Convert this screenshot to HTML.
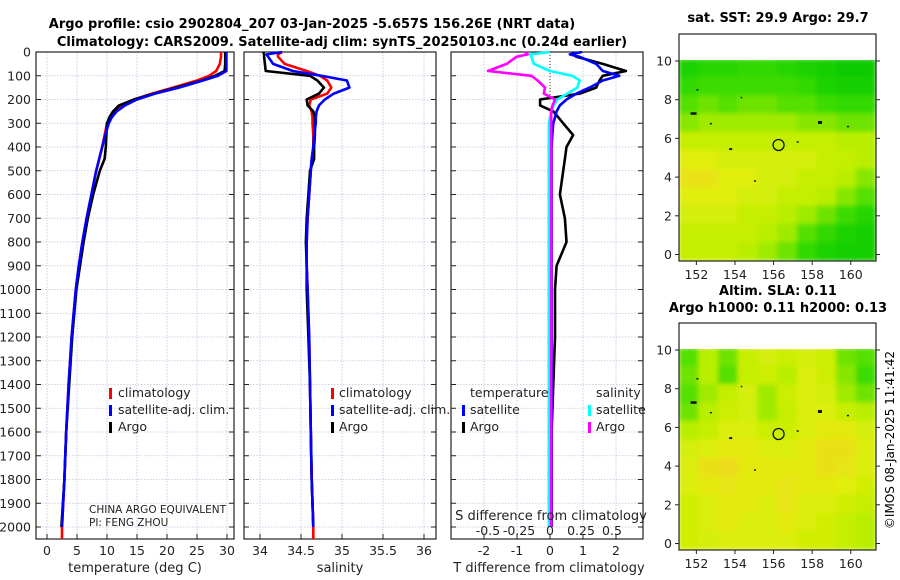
<!DOCTYPE html>
<html><head><meta charset="utf-8"><style>
html,body{margin:0;padding:0;background:#fff;width:900px;height:580px;overflow:hidden}
svg{display:block;font-family:"DejaVu Sans","Liberation Sans",sans-serif}
</style></head><body>
<svg id="chart" width="900" height="580" viewBox="0 0 900 580">
<defs>
<filter id="blur" x="0" y="0" width="1" height="1"><feGaussianBlur stdDeviation="2.5" edgeMode="duplicate"/></filter>
<clipPath id="clipM1"><rect x="679" y="60" width="197" height="201"/></clipPath>
<clipPath id="clipM2"><rect x="679" y="349" width="197" height="201"/></clipPath>
</defs>
<text x="312" y="28" font-size="13" font-weight="bold" text-anchor="middle">Argo profile: csio 2902804_207 03-Jan-2025 -5.657S 156.26E (NRT data)</text>
<text x="342" y="46" font-size="13" font-weight="bold" text-anchor="middle">Climatology: CARS2009. Satellite-adj clim: synTS_20250103.nc (0.24d earlier)</text>
<text x="778" y="22" font-size="13" font-weight="bold" text-anchor="middle">sat. SST: 29.9 Argo: 29.7</text>
<text x="778" y="295" font-size="13" font-weight="bold" text-anchor="middle">Altim. SLA: 0.11</text>
<text x="778" y="312" font-size="13" font-weight="bold" text-anchor="middle">Argo h1000: 0.11 h2000: 0.13</text>
<text transform="translate(894,440) rotate(-90)" font-size="12" text-anchor="middle">©IMOS 08-Jan-2025 11:41:42</text>
<g id="g"></g>
</svg>
<script>
// depth levels (m)
const depths=[0,10,20,50,80,100,120,150,175,200,225,250,275,300,350,400,450,500,600,700,800,900,1000,1200,1400,1600,1800,2000];
const tempClim=[29.0,29.0,29.0,28.8,28.2,27.0,25.0,21.0,17.5,14.5,12.5,11.3,10.6,10.0,9.6,9.2,8.7,8.2,7.4,6.6,5.9,5.3,4.8,4.1,3.6,3.2,2.9,2.5];
const tempSat=[29.9,29.9,29.9,29.9,29.9,28.5,26.0,22.0,18.0,15.0,13.0,11.6,10.8,10.3,9.7,9.2,8.7,8.2,7.4,6.6,5.9,5.3,4.8,4.1,3.6,3.2,2.9,2.5];
const tempArgo=[29.7,29.7,29.7,29.7,29.6,28.0,25.8,21.5,17.8,14.5,12.0,11.0,10.4,10.0,9.9,9.8,9.6,8.8,7.7,6.8,6.1,5.5,4.9,4.2,3.7,3.2,2.9,2.4];
const salClim=[34.27,34.22,34.22,34.30,34.57,34.73,34.82,34.87,34.82,34.62,34.60,34.63,34.64,34.64,34.65,34.65,34.63,34.62,34.60,34.58,34.57,34.57,34.58,34.60,34.61,34.62,34.63,34.65];
const salSat=[34.27,34.08,34.10,34.16,34.40,34.75,35.06,35.09,34.90,34.79,34.72,34.69,34.68,34.68,34.66,34.65,34.63,34.62,34.60,34.58,34.57,34.57,34.58,34.60,34.61,34.62,34.63,34.65];
const salArgo=[34.04,34.05,34.05,34.06,34.07,34.61,34.70,34.78,34.72,34.57,34.58,34.65,34.67,34.67,34.67,34.66,34.66,34.61,34.59,34.57,34.56,34.57,34.57,34.59,34.61,34.62,34.63,34.65];
const dTSat=[0.97,0.6,0.9,1.4,1.6,2.1,1.6,1.2,0.8,0.5,0.3,0.2,0.15,0.1,0.07,0.05,0.05,0.05,0.05,0.05,0.05,0.05,0.05,0.05,0.05,0.05,0.05,0.05];
const dTArgo=[0.7,0.7,0.8,1.6,2.3,1.6,1.5,1.4,0.9,-0.3,-0.3,0.1,0.25,0.4,0.7,0.5,0.45,0.4,0.3,0.45,0.5,0.2,0.15,0.15,0.1,0.05,0.05,0.05];
const dSSat=[0.0,-0.16,-0.15,-0.13,0.0,0.18,0.24,0.22,0.14,0.06,0.03,0.01,0.0,-0.01,-0.01,-0.01,-0.01,-0.01,-0.01,-0.01,-0.01,-0.01,-0.01,-0.01,-0.01,-0.01,-0.01,-0.01];
const dSArgo=[-0.2,-0.18,-0.27,-0.35,-0.5,-0.15,-0.1,-0.04,-0.05,0.04,0.02,0.01,0.01,0.01,0.01,0.01,0.01,0.01,0.01,0.01,0.01,0.01,0.01,0.01,0.01,0.01,0.01,0.01];
const depthTicks=[0,100,200,300,400,500,600,700,800,900,1000,1100,1200,1300,1400,1500,1600,1700,1800,1900,2000];
const tempTicks=[0,5,10,15,20,25,30];
const salTicks=[34,34.5,35,35.5,36];
const salTickLabels=["34","34.5","35","35.5","36"];
const dTTicks=[-2,-1,0,1,2];
const dSTicks=[-0.5,-0.25,0,0.25,0.5];
const dSTickLabels=["-0.5","-0.25","0","0.25","0.5"];
const lonTicks=[152,154,156,158,160];
const latTicks=[0,2,4,6,8,10];
const sstGrid=[
[0.15,0.2,0.2,0.25,0.25,0.2,0.15,0.1,0.05,0.05],
[0.25,0.3,0.3,0.3,0.3,0.3,0.25,0.15,0.1,0.1],
[0.35,0.4,0.35,0.4,0.4,0.35,0.35,0.3,0.25,0.25],
[0.45,0.5,0.5,0.5,0.5,0.5,0.45,0.45,0.4,0.4],
[0.6,0.6,0.6,0.6,0.6,0.6,0.6,0.6,0.55,0.55],
[0.7,0.7,0.65,0.65,0.65,0.65,0.65,0.6,0.6,0.55],
[0.75,0.75,0.7,0.7,0.65,0.65,0.6,0.6,0.55,0.45],
[0.7,0.7,0.7,0.65,0.65,0.6,0.6,0.55,0.45,0.35],
[0.65,0.65,0.65,0.6,0.6,0.55,0.5,0.4,0.3,0.2],
[0.6,0.6,0.6,0.6,0.55,0.5,0.35,0.25,0.15,0.1],
[0.6,0.6,0.6,0.55,0.5,0.4,0.25,0.15,0.1,0.1]];
const slaGrid=[
[0.35,0.55,0.4,0.6,0.65,0.62,0.65,0.62,0.4,0.35],
[0.4,0.55,0.35,0.6,0.62,0.55,0.68,0.62,0.45,0.3],
[0.35,0.5,0.6,0.65,0.5,0.62,0.68,0.65,0.5,0.4],
[0.4,0.55,0.62,0.65,0.5,0.6,0.68,0.68,0.6,0.55],
[0.55,0.6,0.68,0.68,0.62,0.62,0.68,0.72,0.72,0.65],
[0.65,0.68,0.72,0.72,0.68,0.68,0.72,0.76,0.76,0.68],
[0.68,0.76,0.78,0.72,0.72,0.72,0.72,0.76,0.74,0.68],
[0.68,0.72,0.74,0.72,0.72,0.74,0.72,0.72,0.7,0.64],
[0.64,0.68,0.72,0.72,0.68,0.74,0.68,0.68,0.64,0.6],
[0.64,0.68,0.72,0.68,0.68,0.72,0.68,0.64,0.6,0.55],
[0.64,0.66,0.68,0.68,0.68,0.68,0.64,0.64,0.6,0.55]];
const argoLon=156.26, argoLat=5.66;

const NS="http://www.w3.org/2000/svg";
const G=document.getElementById('g');
function mk(tag,attrs,parent){const e=document.createElementNS(NS,tag);for(const k in attrs)e.setAttribute(k,attrs[k]);(parent||G).appendChild(e);return e;}
const yTop=52,yPer=0.2375,yBot=539;
const Y=d=>yTop+d*yPer;
const xT=v=>47+6*v;
const xS=v=>260+82*(v-34);
const xDT=v=>550+33*v;
const xDS=v=>550+124*v;

function panel(x0,x1,name,xticks,xf,showY){
  const grp=mk('g',{});
  
  
  xticks.forEach(t=>{const l=mk('line',{x1:xf(t),x2:xf(t),y1:yTop,y2:yBot,stroke:'#b8c4ee','stroke-width':0.8,'stroke-dasharray':'1.5,1.5'},grp);
    });
  depthTicks.forEach(d=>{const l=mk('line',{x1:x0,x2:x1,y1:Y(d),y2:Y(d),stroke:'#c9c0d8','stroke-width':0.8,'stroke-dasharray':'1.5,1.5'},grp);
    
    mk('line',{x1:x0,x2:x0+5,y1:Y(d),y2:Y(d),stroke:'#222'},grp);mk('line',{x1:x1-5,x2:x1,y1:Y(d),y2:Y(d),stroke:'#222'},grp);
    if(showY){const t=mk('text',{x:x0-5,y:Y(d)+4.5,'font-size':12.5,'text-anchor':'end',fill:'#222'},grp);t.textContent=d;
      }
  });
  const fr=mk('rect',{x:x0,y:yTop,width:x1-x0,height:yBot-yTop,fill:'none',stroke:'#222','stroke-width':1.2},grp);
  
  return grp;
}
function line(grp,xs,xf,color,name,w){
  const pts=xs.map((v,i)=>xf(v).toFixed(1)+','+Y(depths[i]).toFixed(1)).join(' ');
  const p=mk('polyline',{points:pts,fill:'none',stroke:color,'stroke-width':w||2.6,'stroke-linejoin':'round'},grp);
  
}
function xlabels(grp,ticks,labels,xf,y,size){
  ticks.forEach((t,i)=>{mk('line',{x1:xf(t),x2:xf(t),y1:yBot-5,y2:yBot,stroke:'#222'},grp);
    const tx=mk('text',{x:xf(t),y:y,'font-size':size||12.5,'text-anchor':'middle',fill:'#222'},grp);tx.textContent=labels?labels[i]:t;
    });
}
function txt(grp,x,y,s,name,size,anchor){const t=mk('text',{x:x,y:y,'font-size':size||12.5,fill:'#222','text-anchor':anchor||'start'},grp);t.textContent=s;
  return t;}
function legbar(grp,x,y,color){const r=mk('rect',{x:x,y:y-9,width:3,height:11,fill:color},grp);}

// Panel 1 temperature
const p1=panel(36,234,'temperature-panel',tempTicks,xT,true);
mk('line',{x1:xT(tempClim[tempClim.length-1]),x2:xT(tempClim[tempClim.length-1]),y1:Y(2000),y2:yBot,stroke:'red','stroke-width':2.6},p1);
line(p1,tempClim,xT,'red','temp-climatology-line');
line(p1,tempArgo,xT,'black','temp-argo-line');
line(p1,tempSat,xT,'blue','temp-satellite-line');
xlabels(p1,tempTicks,null,xT,555);
txt(p1,135,572,'temperature (deg C)','x-axis-title',13,'middle');
legbar(p1,109,397,'red');txt(p1,118,397,'climatology','legend-climatology',12.5);
legbar(p1,109,414,'blue');txt(p1,118,414,'satellite-adj. clim.','legend-satellite',12.5);
legbar(p1,109,431,'black');txt(p1,118,431,'Argo','legend-argo',12.5);
txt(p1,89,513,'CHINA ARGO EQUIVALENT','pi-institution',10.5);
txt(p1,89,526,'PI: FENG ZHOU','pi-name',10.5);

// Panel 2 salinity
const p2=panel(244,436,'salinity-panel',salTicks,xS,false);
mk('line',{x1:xS(34.65),x2:xS(34.65),y1:Y(2000),y2:yBot,stroke:'red','stroke-width':2.6},p2);
line(p2,salClim,xS,'red','sal-climatology-line');
line(p2,salArgo,xS,'black','sal-argo-line');
line(p2,salSat,xS,'blue','sal-satellite-line');
xlabels(p2,salTicks,salTickLabels,xS,555);
txt(p2,340,572,'salinity','x-axis-title',13,'middle');
legbar(p2,331,397,'red');txt(p2,339,397,'climatology','legend-climatology',12.5);
legbar(p2,331,414,'blue');txt(p2,339,414,'satellite-adj. clim.','legend-satellite',12.5);
legbar(p2,331,431,'black');txt(p2,339,431,'Argo','legend-argo',12.5);

// Panel 3 differences
const p3=panel(451,643,'difference-panel',dTTicks,xDT,false);
const zl=mk('line',{x1:550,x2:550,y1:yTop,y2:Y(200),stroke:'#333','stroke-width':1,'stroke-dasharray':'1,2'},p3);

line(p3,dTArgo,xDT,'black','tdiff-argo-line');
line(p3,dTSat,xDT,'blue','tdiff-satellite-line');
line(p3,dSSat,xDS,'cyan','sdiff-satellite-line');
line(p3,dSArgo,xDS,'magenta','sdiff-argo-line');
xlabels(p3,dTTicks,null,xDT,555);
dSTicks.forEach((t,i)=>{const tx=txt(p3,xDS(t),535,dSTickLabels[i],'s-tick-label',12.5,'middle');});
txt(p3,551,520,'S difference from climatology','s-axis-title',13,'middle');
txt(p3,549,572,'T difference from climatology','x-axis-title',13,'middle');
txt(p3,470,397,'temperature','legend-temp-header',12.5);
legbar(p3,462,414,'blue');txt(p3,470,414,'satellite','legend-t-satellite',12.5);
legbar(p3,462,431,'black');txt(p3,470,431,'Argo','legend-t-argo',12.5);
txt(p3,596,397,'salinity','legend-sal-header',12.5);
legbar(p3,588,414,'cyan');txt(p3,596,414,'satellite','legend-s-satellite',12.5);
legbar(p3,588,431,'magenta');txt(p3,596,431,'Argo','legend-s-argo',12.5);

// maps
const lonX=v=>679+(v-151.1)*19.3;
function cmap(v){
  const stops=[[0,[0,200,0]],[0.3,[60,220,0]],[0.55,[185,238,0]],[0.7,[225,238,10]],[0.8,[240,215,30]]];
  for(let i=1;i<stops.length;i++){if(v<=stops[i][0]){const a=stops[i-1],b=stops[i];const f=(v-a[0])/(b[0]-a[0]);
    return 'rgb('+a[1].map((c,j)=>Math.round(c+(b[1][j]-c)*f)).join(',')+')';}}
  return 'rgb(240,215,30)';
}
function mapPanel(top,grid,name,clip,lat10){
  const latY=v=>lat10+(10-v)*19.35;
  const grp=mk('g',{});
  const cells=mk('g',{'clip-path':'url(#'+clip+')'},grp);
  const cg=mk('g',{filter:'url(#blur)'},cells);
  const nr=grid.length,nc=grid[0].length,x0=679,y0=lat10-2,w=197/nc,h=(top+227-y0)/nr;
  grid.forEach((row,r)=>row.forEach((v,c)=>{const rc=mk('rect',{x:x0+c*w-0.5,y:y0+r*h-0.5,width:w+1,height:h+1,fill:cmap(v)},cg);
    }));
  const fr=mk('rect',{x:679,y:top,width:197,height:227,fill:'none',stroke:'#222','stroke-width':1.2},grp);
  
  lonTicks.forEach(t=>{mk('line',{x1:lonX(t),x2:lonX(t),y1:top+227,y2:top+231,stroke:'#222'},grp);
    const tx=txt(grp,lonX(t),top+245,String(t),'lon-tick-label',12.5,'middle');});
  latTicks.forEach(t=>{mk('line',{x1:675,x2:679,y1:latY(t),y2:latY(t),stroke:'#222'},grp);mk('line',{x1:876,x2:880,y1:latY(t),y2:latY(t),stroke:'#222'},grp);
    txt(grp,672,latY(t)+4.5,String(t),'lat-tick-label',12.5,'end');});
  const c=mk('circle',{cx:lonX(argoLon),cy:latY(argoLat),r:5.5,fill:'none',stroke:'#111','stroke-width':1.3},grp);
  
  [[151.7,7.35,6,2.5],[158.3,6.9,4,3],[153.7,5.5,3,2],[157.2,5.85,2,1.5],[155,3.85,1.5,2],[152.7,6.8,2,1.5],[154.3,8.15,1.5,1.5],[152.0,8.55,2,1.5],[159.8,6.65,2,1.5]].forEach(d=>{
    const r=mk('rect',{x:lonX(d[0]),y:latY(d[1]),width:d[2],height:d[3],fill:'#111'},grp);
    });
}
mapPanel(34,sstGrid,'sst-map','clipM1',61);
mapPanel(323,slaGrid,'sla-map','clipM2',350);
</script>
</body></html>
